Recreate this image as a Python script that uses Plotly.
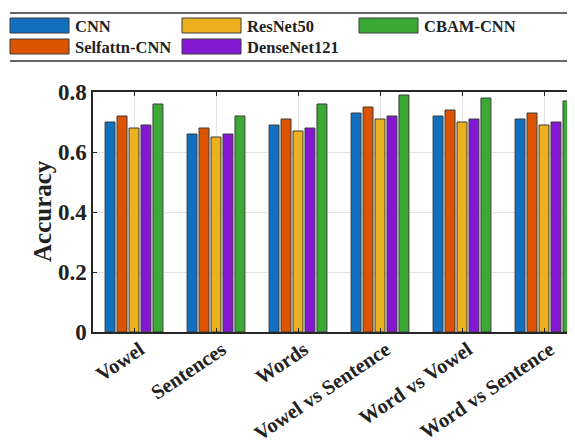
import plotly.graph_objects as go

categories = ["Vowel", "Sentences", "Words", "Vowel vs Sentence", "Word vs Vowel", "Word vs Sentence"]
series_names = ["CNN", "Selfattn-CNN", "ResNet50", "DenseNet121", "CBAM-CNN"]
cnn = [0.70, 0.66, 0.69, 0.73, 0.72, 0.71]
selfattn = [0.72, 0.68, 0.71, 0.75, 0.74, 0.73]
resnet = [0.68, 0.65, 0.67, 0.71, 0.70, 0.69]
densenet = [0.69, 0.66, 0.68, 0.72, 0.71, 0.70]
cbam = [0.76, 0.72, 0.76, 0.79, 0.78, 0.77]
series_values = [cnn, selfattn, resnet, densenet, cbam]
colors = ["#1170C0", "#DD5400", "#EDB120", "#8418D2", "#3BAA35"]
y_tickvals = [0, 0.2, 0.4, 0.6, 0.8]
y_ticktext = ["0", "0.2", "0.4", "0.6", "0.8"]

OFF = 8  # page body margin
W, H = 575 - OFF, 445 - OFF
L, T, B, R = 93 - OFF, 92 - OFF, 332 - OFF, 575 - OFF
PW = R - L
PH = B - T
FONT = "Liberation Serif"

fig = go.Figure()
for name, vals, col in zip(series_names, series_values, colors):
    fig.add_trace(go.Bar(
        x=list(range(len(categories))), y=vals, name=name,
        marker=dict(color=col, line=dict(color="#3a3a3a", width=1)),
        showlegend=False,
    ))

def px_x(p):
    return (p - OFF - L) / PW

def px_y(p):
    return (B - (p - OFF)) / PH

shapes = []
annotations = []
for yy in (13, 61):
    shapes.append(dict(type="line", xref="paper", yref="paper",
                       x0=px_x(10), x1=px_x(575), y0=px_y(yy), y1=px_y(yy),
                       line=dict(color="#333333", width=1.5)))
legend_pos = {
    "CNN": (10, 18),
    "Selfattn-CNN": (10, 39),
    "ResNet50": (182, 18),
    "DenseNet121": (182, 39),
    "CBAM-CNN": (359, 18),
}
for name, col in zip(series_names, colors):
    bx, by = legend_pos[name]
    shapes.append(dict(type="rect", xref="paper", yref="paper",
                       x0=px_x(bx), x1=px_x(bx + 59), y0=px_y(by + 15), y1=px_y(by),
                       fillcolor=col, line=dict(color="#3a3a3a", width=1)))
    annotations.append(dict(xref="paper", yref="paper", x=px_x(bx + 63), y=px_y(by + 8),
                            text=name, showarrow=False, xanchor="left", yanchor="middle",
                            font=dict(family=FONT, size=16.5, color="#222222", weight="bold")))

annotations.append(dict(xref="paper", yref="paper", x=px_x(42), y=px_y(211),
                        text="Accuracy", textangle=-90, showarrow=False,
                        xanchor="center", yanchor="middle",
                        font=dict(family=FONT, size=25, color="#222222", weight="bold")))

fig.update_layout(
    width=W, height=H,
    margin=dict(l=L, r=W - R, t=T, b=H - B, pad=0, autoexpand=False),
    paper_bgcolor="white", plot_bgcolor="white",
    barmode="group", bargap=0.27, bargroupgap=0.17,
    shapes=shapes, annotations=annotations,
    font=dict(family=FONT, color="#222222"),
    yaxis=dict(
        range=[0, 0.8], tickvals=y_tickvals, ticktext=y_ticktext,
        automargin=False,
        showgrid=True, gridcolor="#e3e3e3", gridwidth=1,
        showline=True, linecolor="#262626", linewidth=1.5,
        ticks="inside", ticklen=4, tickcolor="#262626",
        tickfont=dict(family=FONT, size=23, color="#222222", weight="bold"),
        zeroline=False, mirror=False,
    ),
    xaxis=dict(
        range=[-0.5, PW / 82 - 0.5],
        tickvals=list(range(len(categories))), ticktext=categories,
        tickangle=-34, automargin=False, ticklabelshift=6, ticklabelstandoff=-4,
        showgrid=True, gridcolor="#e3e3e3", gridwidth=1,
        showline=True, linecolor="#262626", linewidth=1.5, mirror="ticks",
        ticks="inside", ticklen=4, tickcolor="#262626",
        tickfont=dict(family=FONT, size=20.5, color="#222222", weight="bold"),
        zeroline=False,
    ),
)

fig.write_html("out.html")
